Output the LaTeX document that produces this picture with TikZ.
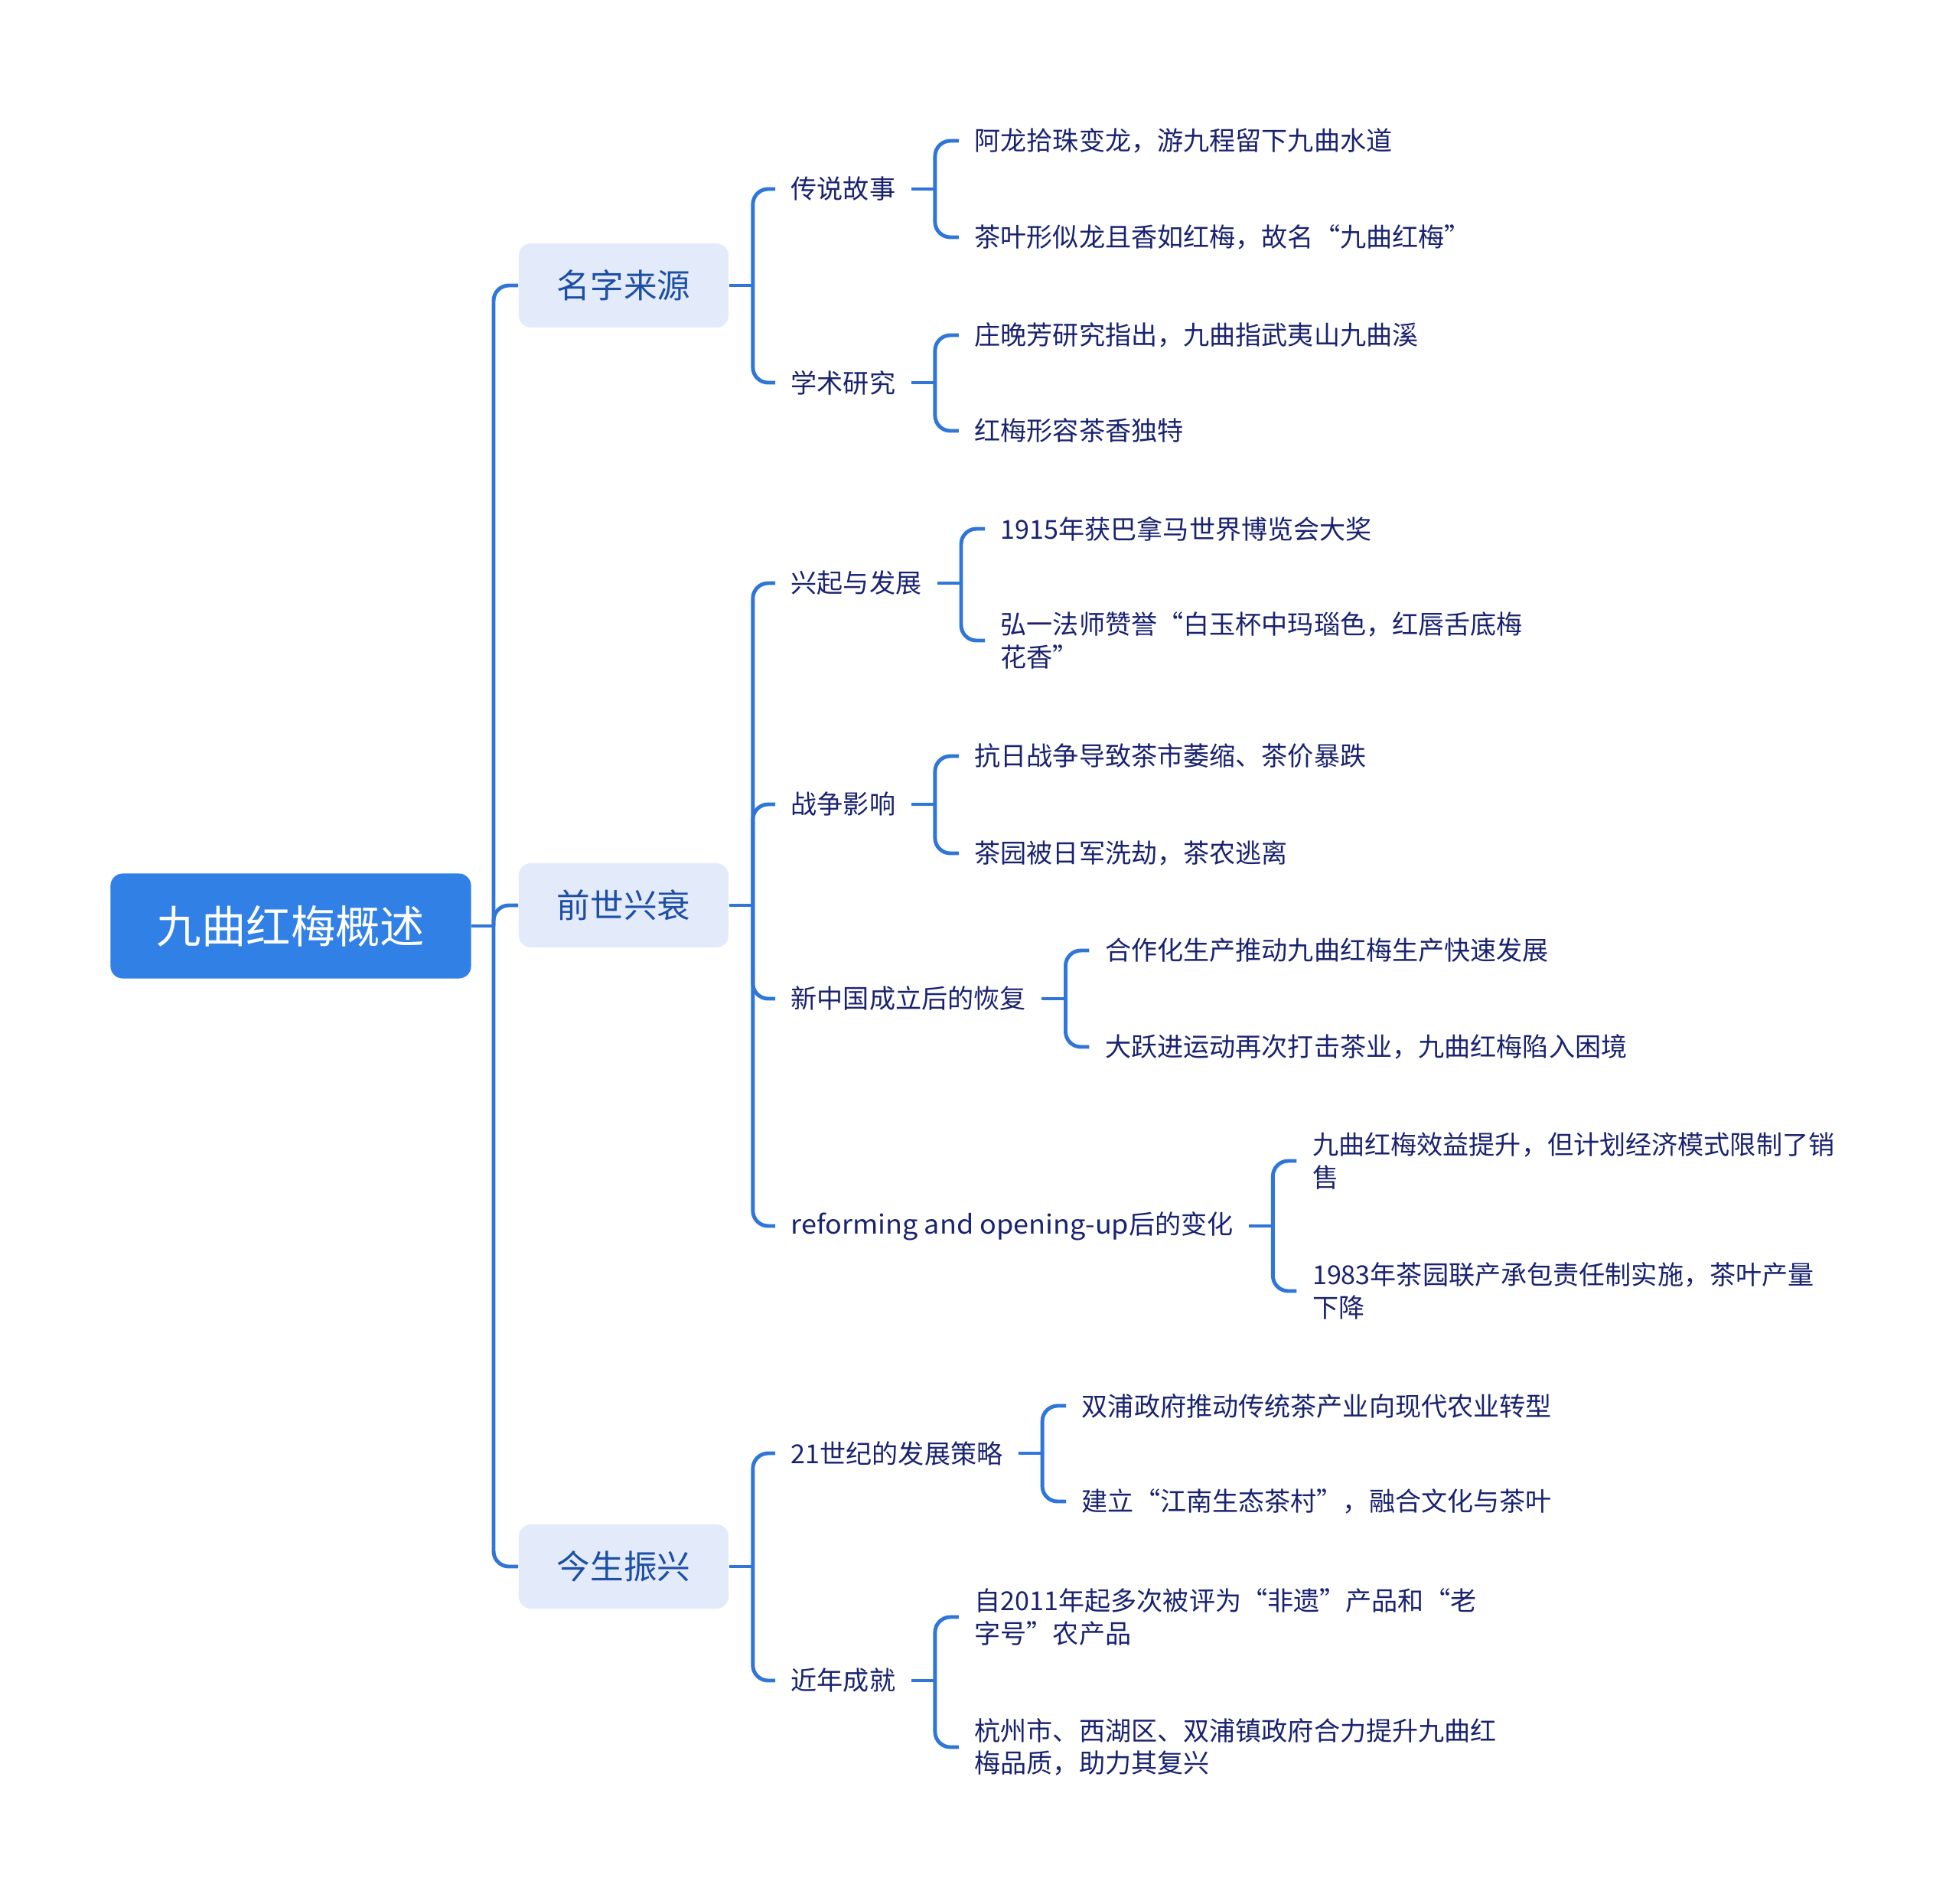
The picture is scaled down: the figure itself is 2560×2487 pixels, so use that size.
\documentclass[tikz,border=0pt]{standalone}
\usepackage{fontspec}
\setmainfont{Noto Sans CJK SC}
\newfontfamily\widelatin[FakeStretch=1.055]{Noto Sans CJK SC}
\usetikzlibrary{calc}
\definecolor{rootblue}{HTML}{3180E6}
\definecolor{linkblue}{HTML}{2F76D8}
\definecolor{topicfill}{HTML}{E3EBFB}
\definecolor{topictext}{HTML}{1D4FA4}
\definecolor{leaftext}{HTML}{1A2370}
\begin{document}
\begin{tikzpicture}[x=0.01cm, y=-0.01cm, line join=round,
	link/.style={draw=linkblue, line width=1.4pt, rounded corners=0.2cm},
	rootbox/.style={fill=rootblue, text=white, rounded corners=0.16cm, minimum width=4.71cm, minimum height=1.37cm, font=\fontsize{16.6}{20}\selectfont},
	topic/.style={fill=topicfill, text=topictext, rounded corners=0.16cm, minimum width=2.74cm, minimum height=1.1cm, font=\fontsize{12.4}{15}\selectfont},
	sub/.style={anchor=west, text=leaftext, inner xsep=0.2cm, font=\fontsize{9.7}{12.1}\selectfont},
	leaf/.style={sub, align=left}]
	\path[fill=white, use as bounding box] (0,0) rectangle (2560,2487);
	% root and main topics
	\node[rootbox] (root) at (380,1210) {九曲红梅概述};
	\node[topic] (name) at (815,373) {名字来源};
	\node[topic] (past) at (815,1183) {前世兴衰};
	\node[topic] (now) at (815,2047) {今生振兴};
	\coordinate (r0) at (645,1210);
	\draw[link] (root.east) -- (r0);
	\draw[link] (r0) |- (name.west);
	\draw[link] (r0) |- (past.west);
	\draw[link] (r0) |- (now.west);
	% subtopics
	\node[sub] (legend) at (1013,247) {传说故事};
	\node[sub] (study) at (1013,500) {学术研究};
	\node[sub] (rise) at (1013,762) {兴起与发展};
	\node[sub] (war) at (1013,1051) {战争影响};
	\node[sub] (newcn) at (1013,1305) {新中国成立后的恢复};
	\node[sub] (reform) at (1013,1602) {{\widelatin reforming and opening-up}后的变化};
	\node[sub] (cent) at (1013,1899) {21世纪的发展策略};
	\node[sub] (recent) at (1013,2196) {近年成就};
	\coordinate (k1) at ([xshift=.31cm]name.east);
	\coordinate (k2) at ([xshift=.31cm]past.east);
	\coordinate (k3) at ([xshift=.31cm]now.east);
	\draw[link] (name.east) -- (k1);
	\draw[link] (k1) |- (legend.west);
	\draw[link] (k1) |- (study.west);
	\draw[link] (past.east) -- (k2);
	\draw[link] (k2) |- (rise.west);
	\draw[link] (k2) |- (war.west);
	\draw[link] (k2) |- (newcn.west);
	\draw[link] (k2) |- (reform.west);
	\draw[link] (now.east) -- (k3);
	\draw[link] (k3) |- (cent.west);
	\draw[link] (k3) |- (recent.west);
	% leaves
	\coordinate (j1) at ([xshift=.31cm]legend.east);
	\coordinate (j2) at ([xshift=.31cm]study.east);
	\coordinate (j3) at ([xshift=.31cm]rise.east);
	\coordinate (j4) at ([xshift=.31cm]war.east);
	\coordinate (j5) at ([xshift=.31cm]newcn.east);
	\coordinate (j6) at ([xshift=.31cm]reform.east);
	\coordinate (j7) at ([xshift=.31cm]cent.east);
	\coordinate (j8) at ([xshift=.31cm]recent.east);
	\node[leaf] (legend1) at ($(j1 |- 0,184)+(31,0)$) {阿龙拾珠变龙，游九程留下九曲水道};
	\node[leaf] (legend2) at ($(j1 |- 0,310)+(31,0)$) {茶叶形似龙且香如红梅，故名“九曲红梅”};
	\node[leaf] (study1) at ($(j2 |- 0,438)+(31,0)$) {庄晚芳研究指出，九曲指武夷山九曲溪};
	\node[leaf] (study2) at ($(j2 |- 0,563)+(31,0)$) {红梅形容茶香独特};
	\node[leaf] (rise1) at ($(j3 |- 0,691)+(31,0)$) {1915年获巴拿马世界博览会大奖};
	\node[leaf] (rise2) at ($(j3 |- 0,837)+(31,0)$) {弘一法师赞誉“白玉杯中玛瑙色，红唇舌底梅\\花香”};
	\node[leaf] (war1) at ($(j4 |- 0,988)+(31,0)$) {抗日战争导致茶市萎缩、茶价暴跌};
	\node[leaf] (war2) at ($(j4 |- 0,1115)+(31,0)$) {茶园被日军洗劫，茶农逃离};
	\node[leaf] (newcn1) at ($(j5 |- 0,1242)+(31,0)$) {合作化生产推动九曲红梅生产快速发展};
	\node[leaf] (newcn2) at ($(j5 |- 0,1368)+(31,0)$) {大跃进运动再次打击茶业，九曲红梅陷入困境};
	\node[leaf] (reform1) at ($(j6 |- 0,1517)+(31,0)$) {九曲红梅效益提升，但计划经济模式限制了销\\售};
	\node[leaf] (reform2) at ($(j6 |- 0,1687)+(31,0)$) {1983年茶园联产承包责任制实施，茶叶产量\\下降};
	\node[leaf] (cent1) at ($(j7 |- 0,1837)+(31,0)$) {双浦政府推动传统茶产业向现代农业转型};
	\node[leaf] (cent2) at ($(j7 |- 0,1962)+(31,0)$) {建立“江南生态茶村”，融合文化与茶叶};
	\node[leaf] (recent1) at ($(j8 |- 0,2113)+(31,0)$) {自2011年起多次被评为“非遗”产品和“老\\字号”农产品};
	\node[leaf] (recent2) at ($(j8 |- 0,2283)+(31,0)$) {杭州市、西湖区、双浦镇政府合力提升九曲红\\梅品质，助力其复兴};
	\draw[link] (legend.east) -- (j1);
	\draw[link] (j1) |- (legend1.west);
	\draw[link] (j1) |- (legend2.west);
	\draw[link] (study.east) -- (j2);
	\draw[link] (j2) |- (study1.west);
	\draw[link] (j2) |- (study2.west);
	\draw[link] (rise.east) -- (j3);
	\draw[link] (j3) |- (rise1.west);
	\draw[link] (j3) |- (rise2.west);
	\draw[link] (war.east) -- (j4);
	\draw[link] (j4) |- (war1.west);
	\draw[link] (j4) |- (war2.west);
	\draw[link] (newcn.east) -- (j5);
	\draw[link] (j5) |- (newcn1.west);
	\draw[link] (j5) |- (newcn2.west);
	\draw[link] (reform.east) -- (j6);
	\draw[link] (j6) |- (reform1.west);
	\draw[link] (j6) |- (reform2.west);
	\draw[link] (cent.east) -- (j7);
	\draw[link] (j7) |- (cent1.west);
	\draw[link] (j7) |- (cent2.west);
	\draw[link] (recent.east) -- (j8);
	\draw[link] (j8) |- (recent1.west);
	\draw[link] (j8) |- (recent2.west);
\end{tikzpicture}
\end{document}
